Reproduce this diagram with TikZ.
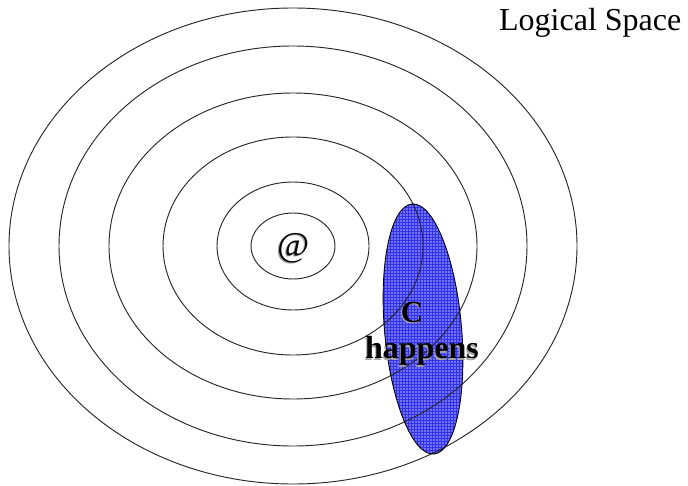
\documentclass[tikz,border=0pt]{standalone}
\usepackage{fontspec}
\setmainfont{Liberation Serif}
\definecolor{cfill}{RGB}{115,115,255}
\definecolor{cgrid}{RGB}{50,50,230}
\tikzset{
  ring/.style={draw=black!85, line width=0.7pt},
  shadowtext/.style={text=black!35},
  maintext/.style={text=black},
}
\begin{document}
\begin{tikzpicture}[x=0.75pt,y=-0.75pt]
\useasboundingbox (0,0) rectangle (688,485);
\coordinate (ctr) at (293,246);
\coordinate (cev) at (423,329);
% blue event region (fill + grid)
\fill[cfill] (cev) ellipse[x radius=38.5, y radius=125.5, rotate=5];
\begin{scope}
  \clip (cev) ellipse[x radius=38.5, y radius=125.5, rotate=5];
  \draw[cgrid, line width=0.25pt, step=2.25pt] (370,190) grid (480,470);
\end{scope}
% concentric rings
\draw[ring] (ctr) ellipse[x radius=284, y radius=238];
\draw[ring] (ctr) ellipse[x radius=234, y radius=200];
\draw[ring] (ctr) ellipse[x radius=184, y radius=153];
\draw[ring] (ctr) ellipse[x radius=130, y radius=109];
\draw[ring] (ctr) ellipse[x radius=76, y radius=64];
\draw[ring] (ctr) ellipse[x radius=42, y radius=33];
% outline of event region
\draw[black, line width=0.65pt] (cev) ellipse[x radius=38.5, y radius=125.5, rotate=5];
% labels
\node[shadowtext, font=\fontsize{26}{28}\selectfont\itshape] (ats) at (291.8,249.2) {@};
\node[maintext, font=\fontsize{26}{28}\selectfont\itshape] (at) at (293,248) {@};
\node[shadowtext, font=\fontsize{23}{26}\selectfont\bfseries] (cs) at (411,313.5) {C};
\node[maintext, font=\fontsize{23}{26}\selectfont\bfseries] (c) at (412,312) {C};
\node[shadowtext, font=\fontsize{24}{27}\selectfont\bfseries] (hs) at (421,352.5) {happens};
\node[maintext, font=\fontsize{24}{27}\selectfont\bfseries] (h) at (422,351) {happens};
\node[maintext, font=\fontsize{24}{27}\selectfont, anchor=east] (title) at (686,23) {Logical Space};
\end{tikzpicture}
\end{document}
